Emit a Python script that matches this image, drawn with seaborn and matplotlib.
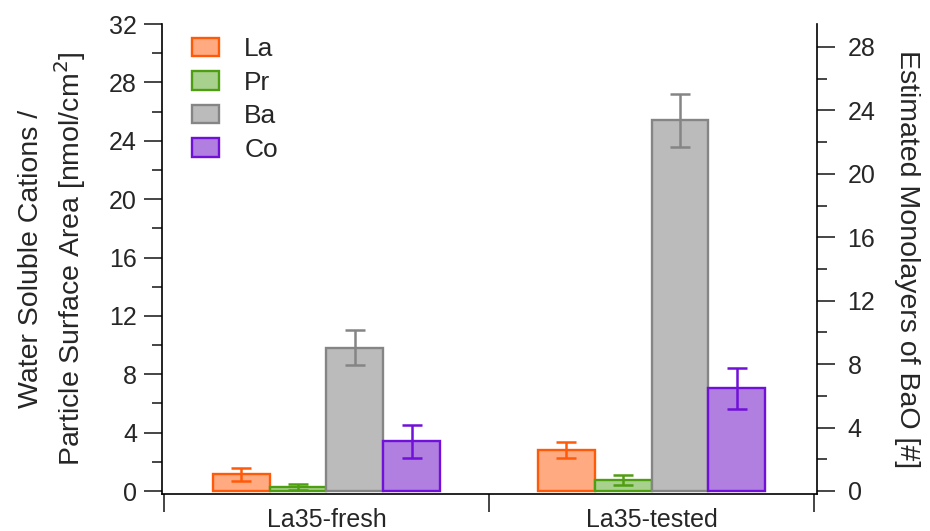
import pandas as pd
import numpy as np
import matplotlib
matplotlib.use("Agg")
import matplotlib.pyplot as plt
import seaborn as sns
from matplotlib.ticker import MultipleLocator, FixedLocator

# data
samples = ["La35-fresh", "La35-tested"]
cations = ["La", "Pr", "Ba", "Co"]
la_vals = [1.15, 2.8]
pr_vals = [0.3, 0.75]
ba_vals = [9.8, 25.4]
co_vals = [3.4, 7.05]
la_err = [0.45, 0.55]
pr_err = [0.2, 0.35]
ba_err = [1.2, 1.8]
co_err = [1.15, 1.4]

face_colors = ["#FFAA80", "#A9D18E", "#BBBBBB", "#B07FE0"]
edge_colors = ["#FF5A0A", "#4E9E12", "#858585", "#7010D8"]

values = [la_vals, pr_vals, ba_vals, co_vals]
errors = [la_err, pr_err, ba_err, co_err]

rows = []
for c, vals in zip(cations, values):
    for s, v in zip(samples, vals):
        rows.append({"sample": s, "cation": c, "value": v})
df = pd.DataFrame(rows)

sns.set_style("ticks")
plt.rcParams["font.family"] = ["Liberation Sans", "DejaVu Sans"]
plt.rcParams["font.size"] = 18

fig = plt.figure(figsize=(9.3, 5.31), dpi=100)
ax = fig.add_axes([162 / 930, 37 / 531, (817 - 162) / 930, (494 - 24) / 531])

sns.barplot(data=df, x="sample", y="value", hue="cation", hue_order=cations,
            order=samples, palette=face_colors, width=0.7, errorbar=None,
            linewidth=1.7, saturation=1, ax=ax, legend=True)

# edge colours and error bars on top of the seaborn bars
for cont, ec, err in zip(ax.containers, edge_colors, errors):
    xs, hs = [], []
    for bar in cont:
        bar.set_edgecolor(ec)
        xs.append(bar.get_x() + bar.get_width() / 2)
        hs.append(bar.get_height())
    ax.errorbar(xs, hs, yerr=err, fmt="none", ecolor=ec, elinewidth=1.8,
                capsize=7, capthick=1.8, zorder=3)

ax.set_xlim(-0.506, 1.509)
ax.set_ylim(-0.205, 32)
ax.yaxis.set_major_locator(MultipleLocator(4))
ax.yaxis.set_minor_locator(MultipleLocator(2))
ax.xaxis.set_minor_locator(FixedLocator([-0.5, 0.5, 1.5]))
ax.tick_params(axis="x", which="major", length=0, pad=10, labelsize=18)
ax.tick_params(axis="x", which="minor", length=13, width=1.2, direction="out")
ax.tick_params(axis="y", which="major", length=13, width=1.2, labelsize=18, pad=5)
ax.tick_params(axis="y", which="minor", length=7, width=1.2)
ax.set_xlabel("")
ax.set_ylabel("Water Soluble Cations /\nParticle Surface Area [nmol/cm$^{2}$]",
              fontsize=20.5, linespacing=1.3, labelpad=15)

for sp in ["left", "bottom", "right", "top"]:
    ax.spines[sp].set_linewidth(1.2)
    ax.spines[sp].set_color("black")
ax.spines["top"].set_visible(False)
ax.spines["right"].set_visible(False)

ax2 = ax.twinx()
ax2.set_ylim(-0.19, 29.45)
ax2.yaxis.set_major_locator(FixedLocator(np.arange(0, 29, 4)))
ax2.yaxis.set_minor_locator(FixedLocator(np.arange(2, 29, 4)))
ax2.tick_params(axis="y", which="major", length=13, width=1.2, labelsize=18, pad=9)
ax2.tick_params(axis="y", which="minor", length=7, width=1.2)
ax2.set_ylabel("Estimated Monolayers of BaO [#]", rotation=-90, fontsize=20.5,
               labelpad=32)
ax2.spines["right"].set_linewidth(1.2)
ax2.spines["right"].set_color("black")
for sp in ["left", "bottom", "top"]:
    ax2.spines[sp].set_visible(False)

leg = ax.legend(loc="upper left", bbox_to_anchor=(0.038, 0.983), frameon=False,
                fontsize=19, handlelength=1.02, handleheight=0.68,
                handletextpad=0.95, labelspacing=0.36, borderpad=0.2,
                borderaxespad=0)
for h, ec in zip(leg.legend_handles, edge_colors):
    h.set_edgecolor(ec)
    h.set_linewidth(1.7)

fig.savefig("out.png", dpi=100)
